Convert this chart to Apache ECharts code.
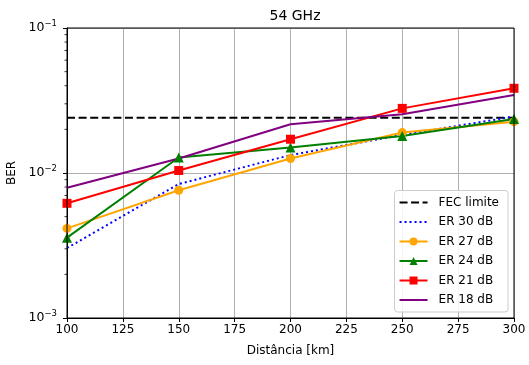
<!DOCTYPE html>
<html>
<head>
<meta charset="utf-8">
<script src="https://cdn.jsdelivr.net/npm/echarts@6/dist/echarts.min.js"></script>
<style>
  html, body { margin: 0; padding: 0; background: #fff; }
  #chart { width: 529px; height: 365px; }
</style>
</head>
<body>
<div id="chart"></div>
<script>
// distâncias (km)
const distances = [100, 150, 200, 250, 300]
const fecLimit = 0.024
const er30 = [0.00304, 0.0084, 0.0133, 0.0183, 0.0245]
const er27 = [0.00415, 0.0076, 0.0126, 0.019, 0.0226]
const er24 = [0.00358, 0.0128, 0.015, 0.018, 0.0236]
const er21 = [0.00618, 0.0104, 0.0171, 0.0279, 0.0384]
const er18 = [0.00792, 0.0126, 0.0217, 0.0254, 0.0345]
const minorMults = [2, 3, 4, 5, 6, 7, 8, 9]
const decades = [0.001, 0.01]

const font = 'DejaVu Sans'
const pair = (arr) => distances.map((d, i) => [d, arr[i]])

// ícones de legenda para as linhas sem marcador
const dashIcon = 'path://M0,0h8v2h-8z M11.5,0h8v2h-8z M23,0h5v2h-5z'
const dotIcon = 'path://M0,0h2v2h-2z M5,0h2v2h-2z M10,0h2v2h-2z M15,0h2v2h-2z M20,0h2v2h-2z M25,0h2v2h-2z M28,0h0v2h0z'
const solidIcon = 'path://M0,0h28v2h-28z'

const chart = echarts.init(document.getElementById('chart'))

function lineSeries(name, data, color, symbol, type) {
  return {
    name: name,
    type: 'line',
    data: pair(data),
    symbol: symbol || 'none',
    symbolSize: symbol === 'triangle' ? 10 : 9,
    showSymbol: !!symbol,
    itemStyle: { color: color },
    lineStyle: { color: color, width: 2, type: type || 'solid' },
    z: 3
  }
}

const option = {
  animation: false,
  title: {
    text: '54 GHz',
    left: 290, top: 4, textAlign: 'center',
    textStyle: { fontFamily: font, fontSize: 14, fontWeight: 'normal', color: '#000' }
  },
  grid: { left: 67, right: 15, top: 28, bottom: 47, outerBoundsMode: 'none' },
  xAxis: {
    type: 'value', min: 100, max: 300, interval: 25,
    name: 'Distância [km]', nameLocation: 'middle', nameGap: 27,
    nameTextStyle: { fontFamily: font, fontSize: 12, color: '#000' },
    axisLine: { lineStyle: { color: '#000', width: 1 } },
    axisTick: { show: true, length: 4, lineStyle: { color: '#000' } },
    axisLabel: { fontFamily: font, fontSize: 12, color: '#000', margin: 6 },
    splitLine: { show: true, lineStyle: { color: '#b0b0b0', width: 1 } }
  },
  yAxis: {
    type: 'log', logBase: 10, min: 0.001, max: 0.1,
    name: 'BER', nameLocation: 'middle', nameGap: 47,
    nameTextStyle: { fontFamily: font, fontSize: 12, color: '#000' },
    axisLine: { show: true, lineStyle: { color: '#000', width: 1 } },
    axisTick: { show: true, length: 4, lineStyle: { color: '#000' } },
    axisLabel: {
      fontFamily: font, fontSize: 12.5, color: '#000', margin: 10,
      formatter: (v) => '10{sup|−' + Math.abs(Math.round(Math.log10(v))) + '}',
      rich: { sup: { fontFamily: font, fontSize: 8.5, verticalAlign: 'top', padding: [0, 0, 9, 0], color: '#000' } }
    },
    splitLine: { show: true, lineStyle: { color: '#b0b0b0', width: 1 } }
  },
  legend: {
    orient: 'vertical', right: 21, bottom: 53,
    itemWidth: 28, itemHeight: 10, itemGap: 7.5,
    padding: [6, 9, 6, 4],
    backgroundColor: 'rgba(255,255,255,0.85)',
    borderColor: '#cccccc', borderWidth: 1, borderRadius: 3,
    textStyle: { fontFamily: font, fontSize: 12, color: '#000', padding: [0, 0, 0, 6] },
    data: [
      { name: 'FEC limite', icon: dashIcon },
      { name: 'ER 30 dB', icon: dotIcon },
      'ER 27 dB', 'ER 24 dB', 'ER 21 dB',
      { name: 'ER 18 dB', icon: solidIcon }
    ]
  },
  series: [
    {
      name: 'FEC limite', type: 'line',
      data: [[distances[0], fecLimit], [distances[distances.length - 1], fecLimit]],
      symbol: 'none', showSymbol: false,
      itemStyle: { color: '#000' },
      lineStyle: { color: '#000', width: 2, type: [8, 3.6] }, z: 2
    },
    lineSeries('ER 30 dB', er30, '#0000ff', null, [2, 3]),
    lineSeries('ER 27 dB', er27, '#ffa500', 'circle'),
    lineSeries('ER 24 dB', er24, '#008000', 'triangle'),
    lineSeries('ER 21 dB', er21, '#ff0000', 'rect'),
    lineSeries('ER 18 dB', er18, '#800080')
  ]
}
chart.setOption(option)

// ticks menores do eixo log + moldura
function drawExtras() {
  const elements = []
  const rect = chart.getModel().getComponent('grid').coordinateSystem.getRect()
  decades.forEach((d) => {
    minorMults.forEach((m) => {
      const y = chart.convertToPixel({ yAxisIndex: 0 }, d * m)
      elements.push({
        type: 'line',
        shape: { x1: rect.x - 2.5, y1: y, x2: rect.x, y2: y },
        style: { stroke: '#000', lineWidth: 0.8 }
      })
    })
  })
  elements.push({
    type: 'rect',
    shape: { x: rect.x, y: rect.y, width: rect.width, height: rect.height },
    style: { fill: 'none', stroke: '#000', lineWidth: 1 },
    z: 10
  })
  chart.setOption({ graphic: elements })
}
drawExtras()
</script>
</body>
</html>
